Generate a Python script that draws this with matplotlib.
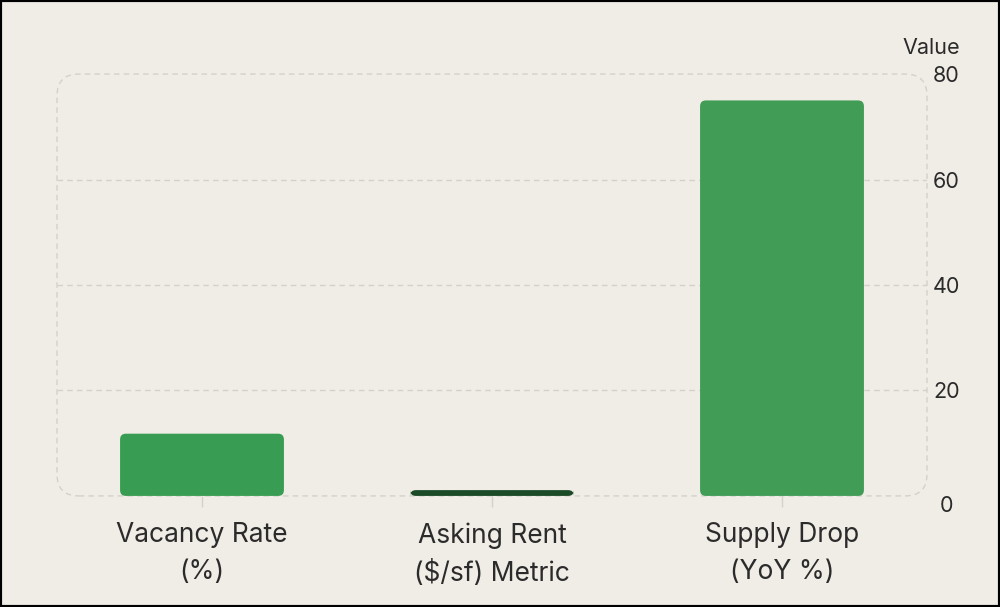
import matplotlib
matplotlib.use('Agg')
import matplotlib.pyplot as plt
from matplotlib.patches import FancyBboxPatch

categories = ['Vacancy Rate\n(%)', 'Asking Rent\n($/sf) Metric', 'Supply Drop\n(YoY %)']
values = [11.8, 1.1, 75.0]
colors = ['#389d52', '#1b4a26', '#419c56']
yticks = [0, 20, 40, 60, 80]

plt.rcParams['font.family'] = ['Inter', 'DejaVu Sans']
bg = '#f0ede6'
grid_c = '#d3d1cc'
txt_c = '#2b2b2b'

fig = plt.figure(figsize=(10, 6.07), dpi=100, facecolor=bg)
ax = fig.add_axes([0.057, 0.183, 0.870, 0.695])
ax.set_facecolor(bg)

x = list(range(len(categories)))
ax.set_xlim(-0.5, 2.5)
ax.set_ylim(0, 80)

# grid lines
for t in yticks[1:-1]:
    ax.axhline(t, color=grid_c, lw=1, ls=(0, (4, 3)), zorder=1)

# rounded bars
bw = 0.565
asp = (80 / 422) / (3 / 870)
for xi, v, c in zip(x, values, colors):
    p = FancyBboxPatch((xi - bw / 2, 0), bw, v,
                       boxstyle='round,pad=0,rounding_size=0.02',
                       mutation_aspect=asp,
                       fc=c, ec='none', zorder=3)
    ax.add_patch(p)

# dashed rounded frame
frame = FancyBboxPatch((0, 0), 1, 1, transform=ax.transAxes,
                       boxstyle='round,pad=0,rounding_size=0.025',
                       mutation_aspect=0.87 * 10 / (0.695 * 6.07),
                       fc='none', ec=grid_c, lw=1, ls=(0, (4, 3)), zorder=2,
                       clip_on=False)
ax.add_patch(frame)
for s in ax.spines.values():
    s.set_visible(False)

ax.set_xticks(x)
ax.set_xticklabels(categories, fontsize=19, color=txt_c, linespacing=1.55)
ax.tick_params(axis='x', length=8, color=grid_c, width=1, pad=11)
for tl in ax.xaxis.get_ticklines():
    tl.set_linestyle((0, (3, 2)))

ax.yaxis.tick_right()
ax.set_yticks(yticks)
ax.set_yticklabels([str(t) for t in yticks], fontsize=15.5, color=txt_c)
ax.tick_params(axis='y', length=0, pad=14)
for lab, t in zip(ax.get_yticklabels(), yticks):
    lab.set_horizontalalignment('center')
    if t == 0:
        lab.set_verticalalignment('top')
    elif t == 80:
        lab.set_verticalalignment('center_baseline')
ax.text(1.005, 1.062, 'Value', transform=ax.transAxes, fontsize=15.5,
        color=txt_c, ha='center', va='center')

# black border around figure
fig.patches.append(plt.Rectangle((0, 0), 1, 1, transform=fig.transFigure,
                                 fill=False, ec='black', lw=3, zorder=10))

fig.savefig('out.png', dpi=100, facecolor=bg)
